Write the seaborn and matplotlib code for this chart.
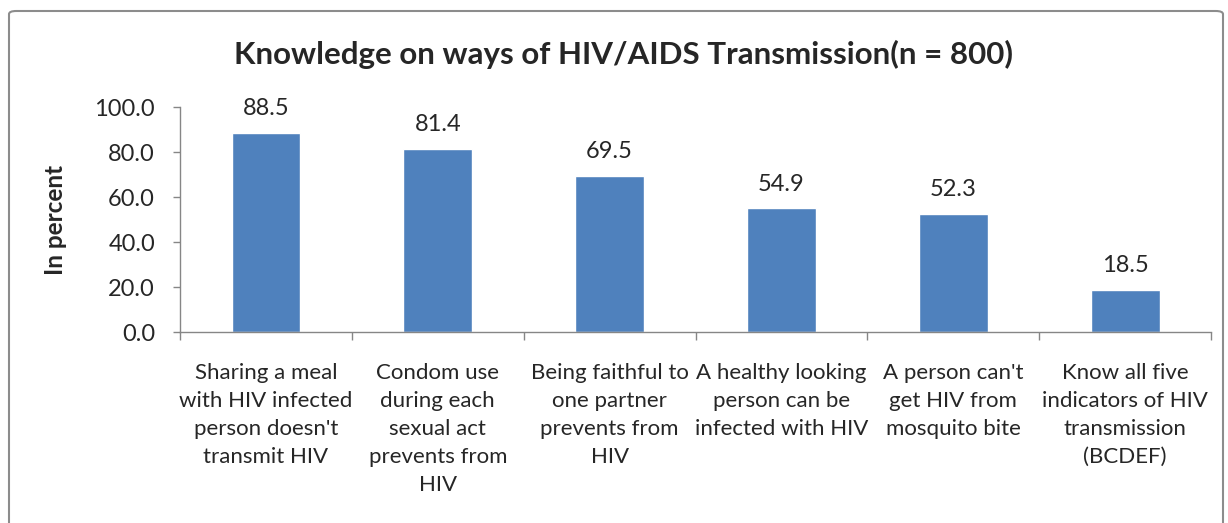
import numpy as np
import pandas as pd
import matplotlib
matplotlib.use("Agg")
import matplotlib.pyplot as plt
from matplotlib.patches import FancyBboxPatch
from matplotlib.ticker import FixedLocator
import seaborn as sns

# ── Data ─────────────────────────────────────────────────────
categories = [
    "Sharing a meal\nwith HIV infected\nperson doesn't\ntransmit HIV",
    "Condom use\nduring each\nsexual act\nprevents from\nHIV",
    "Being faithful to\none partner\nprevents from\nHIV",
    "A healthy looking\nperson can be\ninfected with HIV",
    "A person can't\nget HIV from\nmosquito bite",
    "Know all five\nindicators of HIV\ntransmission\n(BCDEF)",
]
percent = [88.5, 81.4, 69.5, 54.9, 52.3, 18.5]
y_ticks = [0, 20, 40, 60, 80, 100]

df = pd.DataFrame({"category": categories, "percent": percent})

sns.set_style("white")
plt.rcParams["font.family"] = ["Lato", "DejaVu Sans"]

BAR = "#4F81BD"
AXIS = "#868686"

fig = plt.figure(figsize=(12.28, 5.23), dpi=100)
ax = fig.add_axes([0.1466, 0.3652, 0.8396, 0.4302])

sns.barplot(data=df, x="category", y="percent", color=BAR, width=0.4,
            saturation=1, ax=ax)

ax.set_ylim(0, 100)
ax.set_xlim(-0.5, len(categories) - 0.5)
ax.set_yticks(y_ticks)
ax.set_yticklabels([f"{v:.1f}" for v in y_ticks], fontsize=17)
ax.set_xticks(range(len(categories)))
ax.set_xticklabels(categories, fontsize=16, linespacing=1.5)
ax.xaxis.set_minor_locator(FixedLocator(np.arange(-0.5, len(categories), 1)))

ax.tick_params(axis="x", which="major", length=0, pad=22)
ax.tick_params(axis="x", which="minor", length=6, width=1, color=AXIS,
               direction="out", bottom=True)
ax.tick_params(axis="y", length=5, width=1, color=AXIS, direction="out",
               left=True, pad=13)

for s in ["top", "right"]:
    ax.spines[s].set_visible(False)
for s in ["left", "bottom"]:
    ax.spines[s].set_color(AXIS)
    ax.spines[s].set_linewidth(1)

ax.set_xlabel("")
ax.set_ylabel("In percent", fontsize=17.5, fontweight="bold", labelpad=20)

for c in ax.containers:
    ax.bar_label(c, fmt="%.1f", padding=10, fontsize=17)

fig.text(0.508, 0.895, "Knowledge on ways of HIV/AIDS Transmission(n = 800)",
         ha="center", va="center", fontsize=22.5, fontweight="bold")

# chart-area border
border = FancyBboxPatch((9 / 1228, -0.05), 1 - 14 / 1228, 1 - 11 / 523 + 0.05,
                        boxstyle="round,pad=0,rounding_size=0.006",
                        transform=fig.transFigure, fill=False,
                        edgecolor="#8C8C8C", linewidth=1.5, clip_on=False)
fig.patches.append(border)

fig.savefig("out.png", dpi=100)
plt.close(fig)
